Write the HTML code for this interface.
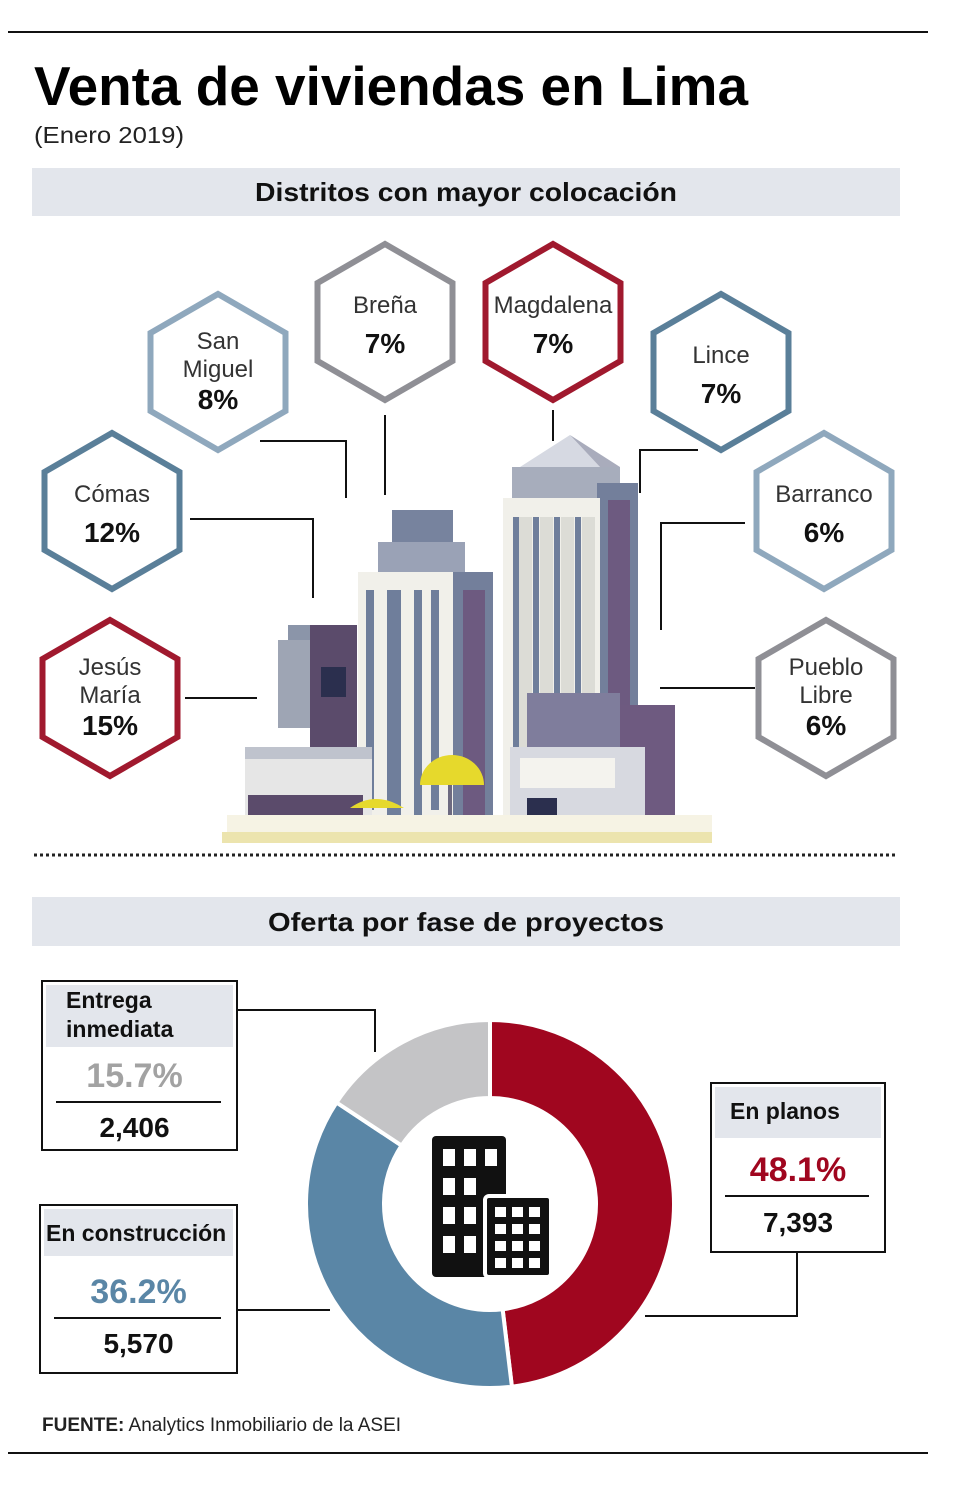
<!DOCTYPE html>
<html><head><meta charset="utf-8"><style>
html,body{margin:0;padding:0;background:#fff;width:980px;height:1486px;overflow:hidden}
svg{display:block;font-family:"Liberation Sans",sans-serif}
</style></head><body>
<svg id="root" width="980" height="1486" viewBox="0 0 980 1486">
<rect x="8" y="31" width="920" height="2" fill="#111"/>
<text x="34" y="105" font-size="55" font-weight="bold" textLength="714" lengthAdjust="spacingAndGlyphs" fill="#000">Venta de viviendas en Lima</text>
<text x="34" y="143" font-size="23" textLength="150" lengthAdjust="spacingAndGlyphs" fill="#222">(Enero 2019)</text>
<rect x="32" y="168" width="868" height="48" fill="#e3e6ec"/>
<text x="466" y="201" font-size="26" font-weight="bold" text-anchor="middle" textLength="422" lengthAdjust="spacingAndGlyphs" fill="#111">Distritos con mayor colocación</text>

<g>
<rect x="227" y="815" width="485" height="28" fill="#f6f3e4"/>
<rect x="222" y="832" width="490" height="11" fill="#ece4ae"/>
<polygon points="520,467 600,467 570,435" fill="#d6d9e2"/>
<polygon points="570,435 600,467 620,467" fill="#a9acbc"/>
<rect x="512" y="467" width="108" height="31" fill="#a7adbc"/>
<rect x="597" y="483" width="41" height="332" fill="#737f9b"/>
<rect x="608" y="500" width="22" height="315" fill="#6d5a80"/>
<rect x="503" y="498" width="97" height="317" fill="#f1f0ea"/>
<g fill="#6f7e9b"><rect x="513" y="517" width="6" height="290"/><rect x="533" y="517" width="6" height="290"/><rect x="554" y="517" width="6" height="290"/><rect x="575" y="517" width="6" height="290"/></g>
<g fill="#dcdcd6"><rect x="519" y="517" width="13" height="290"/><rect x="540" y="517" width="13" height="290"/><rect x="561" y="517" width="13" height="290"/><rect x="582" y="517" width="13" height="290"/></g>
<rect x="613" y="705" width="62" height="110" fill="#6e5a80"/>
<rect x="527" y="693" width="93" height="54" fill="#7f7d9c"/>
<rect x="510" y="747" width="135" height="68" fill="#d7d9e0"/>
<rect x="520" y="758" width="95" height="30" fill="#f4f3ee"/>
<rect x="527" y="798" width="30" height="17" fill="#2b2f4e"/>
<rect x="392" y="510" width="61" height="32" fill="#77839e"/>
<rect x="378" y="542" width="87" height="30" fill="#9aa2b6"/>
<rect x="453" y="572" width="40" height="243" fill="#737f9b"/>
<rect x="463" y="590" width="22" height="225" fill="#6d5a80"/>
<rect x="358" y="572" width="95" height="243" fill="#f1f0ea"/>
<g fill="#6f7e9b"><rect x="366" y="590" width="8" height="220"/><rect x="387" y="590" width="14" height="225"/><rect x="414" y="590" width="8" height="225"/><rect x="431" y="590" width="8" height="220"/></g>
<rect x="288" y="625" width="69" height="15" fill="#8b95a9"/>
<rect x="310" y="625" width="47" height="122" fill="#5b4b6b"/>
<rect x="278" y="640" width="32" height="88" fill="#9ea5b4"/>
<rect x="321" y="667" width="25" height="30" fill="#2b2f4e"/>
<rect x="245" y="747" width="127" height="68" fill="#e6e6e6"/>
<rect x="245" y="747" width="127" height="12" fill="#bfc3cd"/>
<rect x="248" y="795" width="115" height="20" fill="#5b4b6b"/>
<path d="M420,785 A32,30 0 0 1 484,785 Z" fill="#e6d92c"/>
<rect x="448" y="785" width="4" height="30" fill="#6d6a80"/>
<path d="M350,808 Q375,790 404,808 Z" fill="#e6d92c"/>
</g>

<g stroke="#111" stroke-width="2" fill="none">
<polyline points="260,441 346,441 346,498"/>
<polyline points="385,415 385,495"/>
<polyline points="553,410 553,441"/>
<polyline points="698,450 640,450 640,493"/>
<polyline points="190,519 313,519 313,598"/>
<polyline points="745,523 661,523 661,630"/>
<polyline points="185,698 257,698"/>
<polyline points="755,688 660,688"/>
</g>
<g id="hexes"></g>

<line x1="34" y1="855" x2="898" y2="855" stroke="#222" stroke-width="3" stroke-dasharray="3,3"/>
<rect x="32" y="897" width="868" height="49" fill="#e3e6ec"/>
<text x="466" y="931" font-size="26" font-weight="bold" text-anchor="middle" textLength="396" lengthAdjust="spacingAndGlyphs" fill="#111">Oferta por fase de proyectos</text>

<g id="donut"></g>

<g stroke="#111" stroke-width="2" fill="none">
<polyline points="237,1010 375,1010 375,1052"/>
<polyline points="237,1310 330,1310"/>
<polyline points="797,1252 797,1316 645,1316"/>
</g>
<g id="boxes"></g>

<text x="42" y="1431" font-size="19" fill="#222"><tspan font-weight="bold">FUENTE:</tspan> Analytics Inmobiliario de la ASEI</text>
<rect x="8" y="1452" width="920" height="2" fill="#111"/>
</svg>
<script>
const NS='http://www.w3.org/2000/svg';
const districtNames=[["San","Miguel"],["Breña"],["Magdalena"],["Lince"],["Cómas"],["Barranco"],["Jesús","María"],["Pueblo","Libre"]];
const districtShares=[8,7,7,7,12,6,15,6];
const phaseLabels=[["En planos"],["En construcción"],["Entrega","inmediata"]];
const phaseShares=[48.1,36.2,15.7];
const phaseUnits=["7,393","5,570","2,406"];

function mk(tag,attrs,parent){const e=document.createElementNS(NS,tag);for(const k in attrs)e.setAttribute(k,attrs[k]);parent.appendChild(e);return e;}

const hexPos=[[218,372],[385,322],[553,322],[721,372],[112,511],[824,511],[110,698],[826,698]];
const hexCol=["#8fa8bd","#8f8f95","#a0192e","#5a7f99","#5a7f99","#8fa8bd","#a0192e","#8f8f95"];
const hg=document.getElementById('hexes');
districtNames.forEach((nm,i)=>{
  const [cx,cy]=hexPos[i];const r=78;
  const pts=[];for(let k=0;k<6;k++){const a=Math.PI/180*(-90+60*k);pts.push((cx+r*Math.cos(a)).toFixed(1)+','+(cy+r*Math.sin(a)).toFixed(1));}
  const g=mk('g',{},hg);
  
  
  mk('polygon',{points:pts.join(' '),fill:'#fff',stroke:hexCol[i],'stroke-width':6},g);
  const lines=nm.length;const lh=28;
  const top=cy-((lines)*lh+34)/2+22;
  nm.forEach((t,j)=>{const tx=mk('text',{x:cx,y:top+j*lh,'font-size':24,'text-anchor':'middle',fill:'#333'},g);tx.textContent=t;});
  const p=mk('text',{x:cx,y:top+lines*lh+(lines==1?12:4),'font-size':28,'font-weight':'bold','text-anchor':'middle',fill:'#111'},g);
  p.textContent=districtShares[i]+'%';
});

const dg=document.getElementById('donut');
const cx=490,cy=1204,R=184,r0=106;
const phaseCol=["#a0061f","#5a86a6","#c4c4c6"];
const total=phaseShares.reduce((a,b)=>a+b,0);
let acc=0;
function pt(rad,f){const a=-Math.PI/2+f*2*Math.PI;return [cx+rad*Math.cos(a),cy+rad*Math.sin(a)];}
phaseShares.forEach((v,i)=>{
  const f0=acc/total,f1=(acc+v)/total;acc+=v;
  const large=(f1-f0)>0.5?1:0;
  const a=pt(R,f0),b=pt(R,f1),c=pt(r0,f1),d=pt(r0,f0);
  const p=mk('path',{d:`M${a}A${R},${R} 0 ${large} 1 ${b}L${c}A${r0},${r0} 0 ${large} 0 ${d}Z`,fill:phaseCol[i],stroke:'#fff','stroke-width':4},dg);
  
  
});
const ic=mk('g',{fill:'#111'},dg);


mk('rect',{x:432,y:1136,width:74,height:141,rx:4},ic);
mk('rect',{x:485,y:1196,width:66,height:81,rx:4,stroke:'#fff','stroke-width':4},ic);
const wg=mk('g',{fill:'#fff'},ic);
for(let rr=0;rr<4;rr++)for(let cc=0;cc<3;cc++){if(cc==2&&rr>=1)continue;mk('rect',{x:443+cc*21,y:1149+rr*29,width:12,height:17},wg);}
for(let rr=0;rr<4;rr++)for(let cc=0;cc<3;cc++){mk('rect',{x:495+cc*17,y:1207+rr*17,width:11,height:10},wg);}

// box layout: x, y, w, h, header height, pct baseline, rule y, unit baseline, label x, first label baseline
const bxLayout=[[711,1083,174,169,51,1181,1196,1232,730,1119],[40,1205,197,168,47,1303,1318,1353,46,1241],[42,981,195,169,62,1087,1102,1137,66,1008]];
const pctCol=["#a0061f","#5a86a6","#a2a2a2"];
const bg=document.getElementById('boxes');
phaseLabels.forEach((lab,i)=>{
  const [x,y,w,h,hh,py,ly,uy,lx,lby]=bxLayout[i];
  const g=mk('g',{},bg);
  
  
  mk('rect',{x:x,y:y,width:w,height:h,fill:'#fff',stroke:'#111','stroke-width':2},g);
  mk('rect',{x:x+4,y:y+4,width:w-8,height:hh,fill:'#e3e6ec'},g);
  lab.forEach((t,j)=>{const tx=mk('text',{x:lx,y:lby+j*29,'font-size':23,'font-weight':'bold',fill:'#111'},g);tx.textContent=t;});
  const mx=x+w/2-(i==2?5:0);
  const p=mk('text',{x:mx,y:py,'font-size':34,'font-weight':'bold','text-anchor':'middle',fill:pctCol[i]},g);
  p.textContent=phaseShares[i].toFixed(1)+'%';
  mk('line',{x1:x+14,x2:x+w-16,y1:ly,y2:ly,stroke:'#111','stroke-width':2},g);
  const u=mk('text',{x:mx,y:uy,'font-size':28,'font-weight':'bold','text-anchor':'middle',fill:'#111'},g);
  u.textContent=phaseUnits[i];
});
</script>
</body></html>
